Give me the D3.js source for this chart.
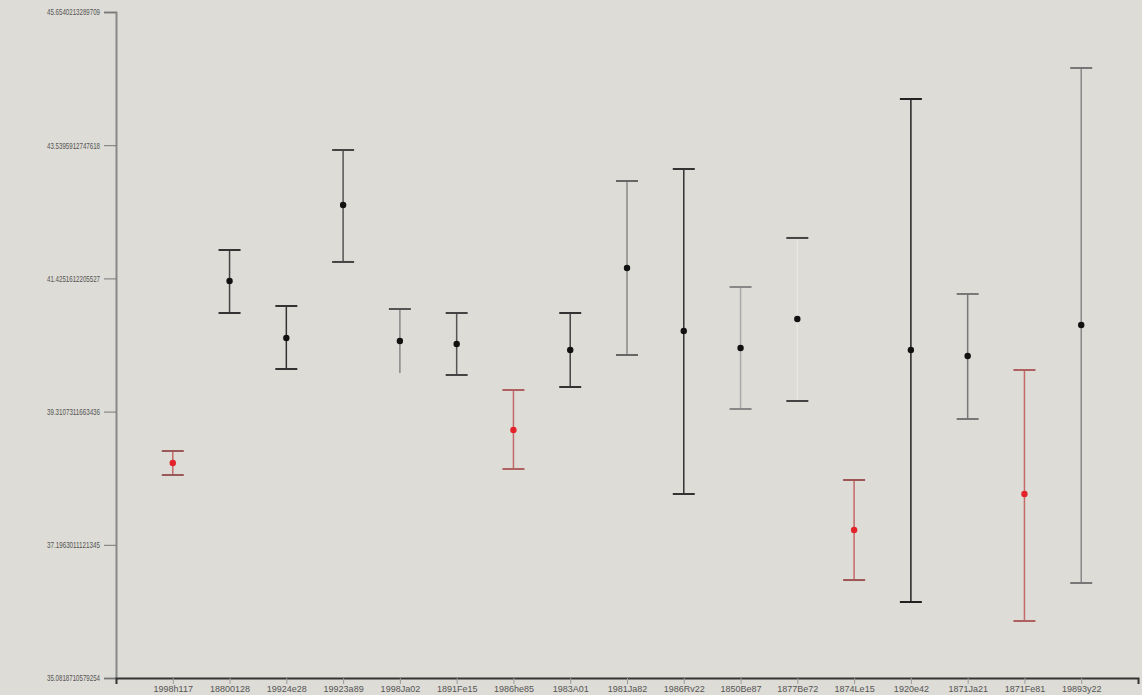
<!DOCTYPE html>
<html>
<head>
<meta charset="utf-8">
<script src="https://cdn.jsdelivr.net/npm/d3@7"></script>
<style>
  html, body { margin: 0; padding: 0; background: #dddcd6; }
  svg { display: block; }
  .tick text { font-family: "Liberation Sans", Arial, sans-serif; font-size: 9px; fill: #555; }
</style>
</head>
<body>
<svg id="chart" width="1142" height="695"></svg>
<script>
// Category labels along the bottom axis
const categories = ["1998h117", "18800128", "19924e28", "19923a89", "1998Ja02", "1891Fe15",
  "1986he85", "1983A01", "1981Ja82", "1986Rv22", "1850Be87", "1877Be72",
  "1874Le15", "1920e42", "1871Ja21", "1871Fe81", "19893y22"];

// Central estimates and interval bounds
const centers = [38.495, 41.384, 40.479, 42.590, 40.432, 40.384, 39.019, 40.289, 41.590,
  40.590, 40.320, 40.781, 37.431, 40.289, 40.193, 38.003, 40.685];
const upper = [38.685, 41.876, 40.987, 43.463, 40.939, 40.876, 39.654, 40.876, 42.971,
  43.162, 41.289, 42.067, 38.225, 44.273, 41.178, 39.971, 44.765];
const lower = [38.304, 40.876, 39.987, 41.686, 39.924, 39.892, 38.400, 39.701, 40.209,
  38.003, 39.352, 39.479, 36.637, 36.288, 39.193, 35.987, 36.590];

// Highlighted (red) entries
const flagged = [true, false, false, false, false, false, true, false, false,
  false, false, false, true, false, false, true, false];

// Stem, upper-cap and lower-cap shades per entry
const stemColors = ["#c46a6a", "#444", "#333", "#555", "#888", "#555", "#c46a6a", "#444", "#888",
  "#333", "#aaa", "#e6e6e2", "#c46a6a", "#222", "#777", "#c46a6a", "#888"];
const capHiColors = ["#9a5a5a", "#333", "#333", "#444", "#555", "#444", "#b06060", "#333", "#666",
  "#333", "#888", "#444", "#a05555", "#222", "#777", "#b06060", "#777"];
const capLoColors = ["#9a5a5a", "#333", "#333", "#444", "none", "#444", "#b06060", "#333", "#666",
  "#333", "#888", "#444", "#a05555", "#222", "#777", "#b06060", "#777"];

// Y-axis tick values
const yTicks = [35.0818710579254, 37.1963011121345, 39.3107311663436,
  41.4251612205527, 43.5395912747618, 45.6540213289709];

const svg = d3.select("#chart");
const margin = { left: 116, right: 4, top: 12, bottom: 17 };
const W = 1142, H = 695;

const x = d3.scalePoint()
  .domain(categories)
  .range([margin.left, W - margin.right])
  .padding(1);

const y = d3.scaleLinear()
  .domain([yTicks[0], yTicks[yTicks.length - 1]])
  .range([H - margin.bottom, margin.top]);

// Axes
const gy = svg.append("g")
  .attr("transform", `translate(${margin.left},0)`)
  .call(d3.axisLeft(y).tickValues(yTicks).tickSize(12).tickPadding(4).tickFormat(d => String(d)));
gy.select(".domain").attr("stroke", "#888").attr("stroke-width", 2);
gy.selectAll(".tick line").attr("stroke", "#777");
gy.selectAll(".tick text")
  .attr("textLength", 53)
  .attr("lengthAdjust", "spacingAndGlyphs")
  .attr("fill", "#5a5560");

const gx = svg.append("g")
  .attr("transform", `translate(0,${H - margin.bottom})`)
  .call(d3.axisBottom(x).tickSize(6).tickPadding(2));
gx.select(".domain").attr("stroke", "#333").attr("stroke-width", 2);
gx.selectAll(".tick line").attr("stroke", "#999");
gx.selectAll(".tick text").attr("fill", "#5a5560");

// Interval marks
const capHalf = 11;
const g = svg.append("g");
const rows = categories.map((c, i) => ({ c, m: centers[i], hi: upper[i], lo: lower[i],
  red: flagged[i], stem: stemColors[i], capHi: capHiColors[i], capLo: capLoColors[i] }));

g.selectAll("line.stem").data(rows).join("line")
  .attr("class", "stem")
  .attr("x1", d => x(d.c)).attr("x2", d => x(d.c))
  .attr("y1", d => y(d.hi)).attr("y2", d => y(d.lo))
  .attr("stroke", d => d.stem).attr("stroke-width", 1.5);

g.selectAll("line.capHi").data(rows).join("line")
  .attr("class", "capHi")
  .attr("x1", d => x(d.c) - capHalf).attr("x2", d => x(d.c) + capHalf)
  .attr("y1", d => y(d.hi)).attr("y2", d => y(d.hi))
  .attr("stroke", d => d.capHi).attr("stroke-width", 2);

g.selectAll("line.capLo").data(rows).join("line")
  .attr("class", "capLo")
  .attr("x1", d => x(d.c) - capHalf).attr("x2", d => x(d.c) + capHalf)
  .attr("y1", d => y(d.lo)).attr("y2", d => y(d.lo))
  .attr("stroke", d => d.capLo).attr("stroke-width", 2);

g.selectAll("circle").data(rows).join("circle")
  .attr("cx", d => x(d.c)).attr("cy", d => y(d.m))
  .attr("r", 3.2)
  .attr("fill", d => d.red ? "#e3222a" : "#111");
</script>
</body>
</html>
